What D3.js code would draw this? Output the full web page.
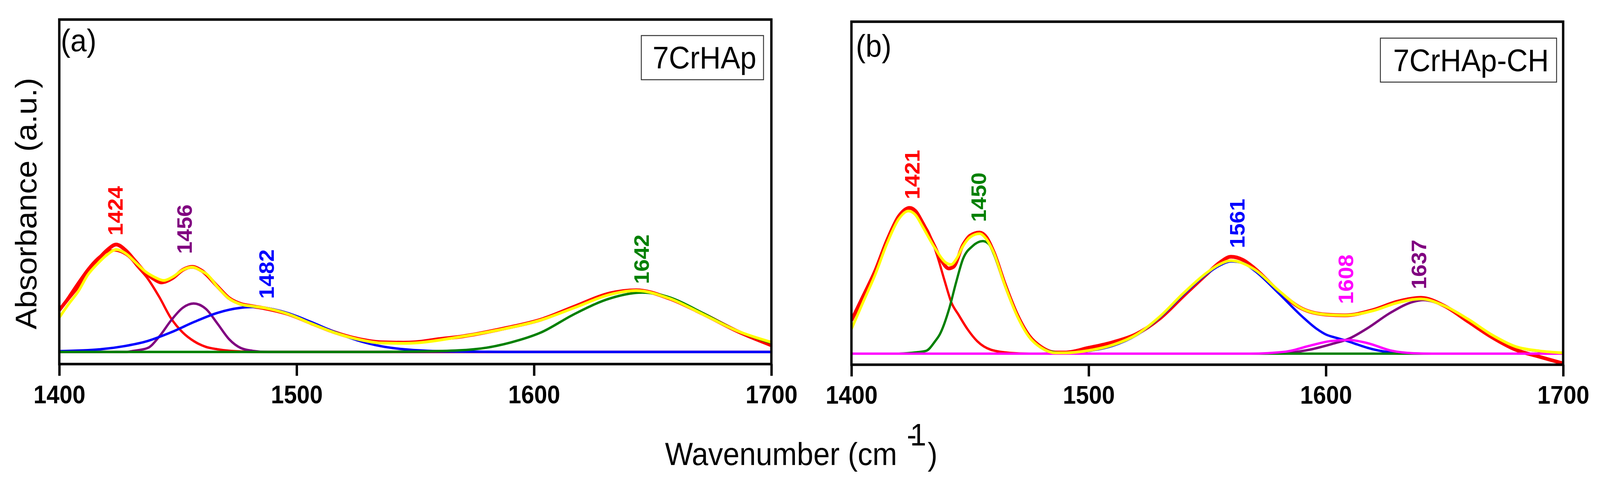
<!DOCTYPE html>
<html><head><meta charset="utf-8">
<script src="https://cdn.jsdelivr.net/npm/d3@7"></script>
<style>html,body{margin:0;padding:0;background:#fff;overflow:hidden}svg{display:block;width:100vw;height:100vh}</style>
</head><body>
<svg id="c" viewBox="0 0 4386 1236" preserveAspectRatio="none"></svg>
<script>
// ---------- DATA (wavenumber cm-1, absorbance a.u.) ----------
const xTicks = [1400, 1500, 1600, 1700];
const panelNames = ["(a)", "(b)"];
const sampleNames = ["7CrHAp", "7CrHAp-CH"];

// Panel (a) 7CrHAp
const measA = [[1400,1.07],[1404,1.38],[1408,1.68],[1412,2.02],[1416,2.34],[1420,2.60],[1424,2.75],[1428,2.60],[1432,2.33],[1436,2.05],[1440,1.86],[1443,1.78],[1448,1.90],[1452,2.10],[1456,2.18],[1460,2.08],[1466.6,1.68],[1471.5,1.38],[1476.5,1.23],[1481.4,1.17],[1486.3,1.12],[1496,0.98],[1506,0.74],[1515.7,0.51],[1525.5,0.34],[1535.4,0.25],[1545,0.24],[1550,0.25],[1560,0.33],[1570,0.40],[1588,0.61],[1603,0.83],[1617,1.16],[1632,1.50],[1643,1.58],[1657,1.37],[1671,0.98],[1686,0.52],[1700,0.17]];
const fitA = [[1400,0.88],[1404,1.23],[1408,1.55],[1412,1.97],[1416,2.25],[1420,2.48],[1424,2.62],[1428,2.52],[1432,2.30],[1436,2.07],[1440,1.92],[1444,1.83],[1448,1.93],[1452,2.10],[1456,2.17],[1460,2.07],[1462,2.00],[1466.6,1.67],[1471.5,1.37],[1476.5,1.22],[1481.4,1.17],[1486.3,1.13],[1496,0.98],[1506,0.73],[1515.7,0.50],[1525.5,0.33],[1535.4,0.23],[1545,0.22],[1550,0.23],[1568,0.38],[1588,0.60],[1603,0.82],[1617,1.13],[1632,1.47],[1643,1.57],[1657,1.37],[1671,0.97],[1686,0.53],[1700,0.25]];
const compA1424 = [[1400,1.06],[1404,1.42],[1408,1.78],[1412,2.12],[1416,2.39],[1420,2.56],[1423,2.60],[1426,2.56],[1430,2.40],[1433,2.18],[1437,1.90],[1442.2,1.40],[1447,0.87],[1452,0.50],[1456.9,0.27],[1461.8,0.13],[1466.6,0.07],[1471.5,0.03],[1477,0.01],[1485,0],[1700,0]];
const compA1456 = [[1400,0],[1428,0],[1430.4,0.02],[1437.2,0.10],[1442.2,0.40],[1447,0.80],[1452,1.13],[1456.6,1.24],[1461.8,1.10],[1466.6,0.73],[1471.5,0.33],[1476.5,0.10],[1481.4,0.03],[1488,0],[1700,0]];
const compA1482 = [[1400,0.02],[1417.6,0.07],[1427.4,0.15],[1437.2,0.28],[1447,0.50],[1456.9,0.77],[1466.6,1.00],[1476.5,1.13],[1481.4,1.15],[1486.3,1.13],[1496,1.00],[1506,0.77],[1515.7,0.52],[1525.5,0.30],[1535.4,0.15],[1545,0.07],[1555,0.03],[1570,0.01],[1590,0],[1700,0]];
const compA1642 = [[1400,0],[1530,0],[1549,0.01],[1568,0.04],[1580,0.11],[1590,0.24],[1603,0.50],[1617,0.97],[1632,1.37],[1645.6,1.52],[1657,1.40],[1671,1.00],[1686,0.53],[1700,0.23]];

// Panel (b) 7CrHAp-CH
const measB = [[1400,0.85],[1405,1.48],[1410,2.12],[1415,2.90],[1420,3.52],[1424.5,3.73],[1427,3.65],[1430,3.35],[1435,2.75],[1438,2.38],[1441,2.18],[1443,2.22],[1447,2.78],[1450,3.02],[1454,3.10],[1457,2.97],[1460,2.60],[1464.7,1.78],[1470,0.98],[1475,0.45],[1480,0.17],[1486,0.03],[1490,0.03],[1500,0.15],[1510,0.29],[1520,0.50],[1530,0.90],[1540,1.48],[1550,2.05],[1555,2.32],[1560,2.48],[1565,2.40],[1570,2.18],[1580,1.60],[1590,1.15],[1600,1.00],[1608,0.98],[1620,1.12],[1630,1.33],[1640,1.43],[1650,1.22],[1660,0.82],[1670,0.42],[1680,0.10],[1690,-0.08],[1700,-0.25]];
const fitB = [[1400,0.63],[1405,1.33],[1410,2.02],[1415,2.82],[1420,3.45],[1424,3.65],[1427,3.55],[1430,3.25],[1435,2.72],[1440,2.32],[1442,2.28],[1444.5,2.45],[1447,2.75],[1450,2.98],[1454,3.07],[1457,2.92],[1460,2.58],[1464.7,1.75],[1470,0.95],[1475,0.42],[1480,0.15],[1486,0.02],[1490,0.02],[1500,0.08],[1510,0.22],[1520,0.48],[1530,0.95],[1540,1.55],[1550,2.08],[1555,2.28],[1560,2.38],[1570,2.15],[1580,1.62],[1590,1.15],[1600,1.00],[1608,0.98],[1620,1.10],[1630,1.30],[1640,1.40],[1650,1.22],[1660,0.88],[1670,0.48],[1680,0.18],[1690,0.07],[1700,0.02]];
const compB1421 = [[1400,0.85],[1405,1.38],[1410,2.10],[1415,2.90],[1420,3.50],[1424.5,3.72],[1427,3.62],[1430,3.35],[1432.4,3.12],[1436.3,2.48],[1439.2,1.88],[1442.2,1.30],[1445.1,1.00],[1449,0.62],[1453,0.32],[1458.8,0.10],[1466.7,0.02],[1475,0],[1700,0]];
const compB1450 = [[1400,0],[1420,0],[1425,0.02],[1431.4,0.07],[1435.3,0.32],[1437.3,0.50],[1441.2,1.15],[1444.1,1.82],[1447,2.42],[1451,2.75],[1455.4,2.88],[1458,2.80],[1460,2.55],[1464.7,1.75],[1470,0.95],[1475,0.42],[1480,0.15],[1486,0.03],[1495,0],[1700,0]];
const compB1561 = [[1400,0],[1480,0],[1490,0.02],[1500,0.07],[1510,0.20],[1520,0.47],[1530,0.93],[1540,1.52],[1550,2.05],[1555,2.25],[1560,2.36],[1565,2.32],[1570,2.12],[1580,1.55],[1590,0.95],[1596,0.64],[1600,0.49],[1604,0.41],[1607.6,0.35],[1612,0.26],[1617.5,0.15],[1624,0.06],[1630,0.02],[1640,0],[1700,0]];
const compB1608 = [[1400,0],[1568,0],[1583,0.05],[1593,0.20],[1601.8,0.32],[1609.6,0.35],[1617.5,0.27],[1627.3,0.08],[1637,0.01],[1645,0],[1700,0]];
const compB1637 = [[1400,0],[1578,0],[1593,0.10],[1602.7,0.25],[1609.6,0.38],[1617.5,0.65],[1627.3,1.05],[1637,1.33],[1641,1.37],[1650,1.22],[1660,0.88],[1670,0.48],[1680,0.18],[1690,0.06],[1700,0.02]];

// Peak annotations: [text, wavenumber, absorbance]
const peakLabelsA = [["1424",1423.6,2.98],["1456",1452.7,2.51],["1482",1487.3,1.36],["1642",1645.2,1.74]];
const peakLabelsB = [["1421",1425.5,3.95],["1450",1453.5,3.37],["1561",1562.5,2.70],["1608",1608.3,1.27],["1637",1639.1,1.65]];

// ---------- STYLE / LAYOUT ----------
const FONT = "'Liberation Sans', Arial, Helvetica, sans-serif";
const RED="#ff0000", YEL="#ffff00", BLU="#0000ff", GRN="#008000", PUR="#800080", MAG="#ff00ff";
const panels = [
  { frame:{x0:162.5,x1:2114.5,y0:50,y1:931.7}, yDom:[-0.31,8.507],
    meas:measA, fit:fitA,
    comps:[[compA1424,RED],[compA1456,PUR],[compA1482,BLU],[compA1642,GRN]],
    labels:peakLabelsA, labColors:[RED,PUR,BLU,GRN],
    tag:{x:166.5,y:131}, box:{x:1758,y:91,w:335,h:113,tx:1789,ty:175}, tickPad:25 },
  { frame:{x0:2334,x1:4285,y0:55.5,y1:933.3}, yDom:[-0.283,8.495],
    meas:measB, fit:fitB,
    comps:[[compB1421,RED],[compB1561,BLU],[compB1637,PUR],[compB1450,GRN],[compB1608,MAG]],
    labels:peakLabelsB, labColors:[RED,GRN,BLU,MAG,PUR],
    tag:{x:2346,y:144.7}, box:{x:3784,y:97.6,w:483,h:112.5,tx:3819,ty:182}, tickPad:24 }
];

const svg = d3.select("#c");
svg.append("rect").attr("width",4386).attr("height",1236).attr("fill","#fff");

panels.forEach((p,i)=>{
  const f=p.frame;
  const x=d3.scaleLinear().domain([xTicks[0], xTicks[xTicks.length-1]]).range([f.x0,f.x1]);
  const y=d3.scaleLinear().domain(p.yDom).range([f.y1,f.y0]);
  const line=d3.line().x(d=>x(d[0])).y(d=>y(d[1])).curve(d3.curveMonotoneX);
  const cid="clip"+i;
  svg.append("clipPath").attr("id",cid).append("rect")
     .attr("x",f.x0).attr("y",f.y0).attr("width",f.x1-f.x0).attr("height",f.y1-f.y0);
  const g=svg.append("g").attr("clip-path",`url(#${cid})`);
  g.append("path").datum(p.meas).attr("d",line).attr("fill","none")
     .attr("stroke",RED).attr("stroke-width",9.5).attr("stroke-linejoin","round");
  p.comps.forEach(([data,col])=>{
    g.append("path").datum(data).attr("d",line).attr("fill","none")
     .attr("stroke",col).attr("stroke-width",6.2).attr("stroke-linejoin","round");
  });
  g.append("path").datum(p.fit).attr("d",line).attr("fill","none")
     .attr("stroke",YEL).attr("stroke-width",7.2).attr("stroke-linejoin","round");

  // peak labels
  p.labels.forEach((l,k)=>{
    svg.append("text").text(l[0])
      .attr("transform",`translate(${x(l[1])},${y(l[2])}) rotate(-90)`)
      .attr("dy","0.36em").attr("text-anchor","start")
      .attr("font-family",FONT).attr("font-weight","bold").attr("font-size",57)
      .attr("fill",p.labColors[k]);
  });

  // frame
  svg.append("rect").attr("x",f.x0).attr("y",f.y0).attr("width",f.x1-f.x0).attr("height",f.y1-f.y0)
     .attr("fill","none").attr("stroke","#000").attr("stroke-width",6.5);

  // axis
  const ax=svg.append("g").attr("transform",`translate(0,${f.y1})`)
     .call(d3.axisBottom(x).tickValues(xTicks).tickFormat(d3.format("d"))
           .tickSize(30).tickPadding(p.tickPad).tickSizeOuter(0));
  ax.select(".domain").remove();
  ax.selectAll(".tick line").attr("stroke","#000").attr("stroke-width",6.5);
  ax.selectAll(".tick text").attr("font-family",FONT).attr("font-weight","bold")
     .attr("font-size",64).attr("fill","#000");

  // panel tag
  svg.append("text").text(panelNames[i]).attr("x",p.tag.x).attr("y",p.tag.y)
     .attr("font-family",FONT).attr("font-size",80).attr("fill","#000");
  // sample box
  svg.append("rect").attr("x",p.box.x).attr("y",p.box.y).attr("width",p.box.w).attr("height",p.box.h)
     .attr("fill","#fff").attr("stroke","#333").attr("stroke-width",2.5);
  svg.append("text").text(sampleNames[i]).attr("x",p.box.tx).attr("y",p.box.ty)
     .attr("font-family",FONT).attr("font-size",80).attr("fill","#000");
});

// axis titles
svg.append("text").text("Absorbance (a.u.)")
   .attr("transform","translate(100,521) rotate(-90)").attr("text-anchor","middle")
   .attr("font-family",FONT).attr("font-size",81).attr("fill","#000");
const xt=svg.append("text").attr("font-family",FONT).attr("font-size",81).attr("fill","#000");
xt.append("tspan").attr("x",1823).attr("y",1190).text("Wavenumber (cm");
xt.append("tspan").attr("x",2486).attr("y",1140).attr("font-size",80)
  .attr("letter-spacing",-18).text("-1");
xt.append("tspan").attr("x",2543).attr("y",1190).text(")");
</script>
</body></html>
